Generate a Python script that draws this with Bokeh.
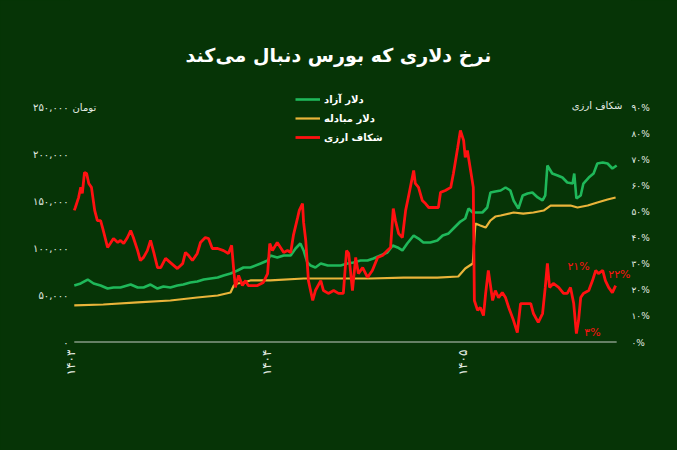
import math
from bokeh.plotting import figure
from bokeh.models import (Range1d, LinearAxis, FixedTicker, Label, Legend, LegendItem)
from bokeh.embed import file_html
from bokeh.resources import INLINE

# ---------------- data ----------------
year_ticks = [0, 365, 730]
year_labels = ["۱۴۰۳", "۱۴۰۴", "۱۴۰۵"]

toman_ticks = [0, 50000, 100000, 150000, 200000, 250000]
toman_labels = ["۰", "۵۰,۰۰۰", "۱۰۰,۰۰۰", "۱۵۰,۰۰۰", "۲۰۰,۰۰۰", "۲۵۰,۰۰۰"]

pct_ticks = [0, 10, 20, 30, 40, 50, 60, 70, 80, 90]
pct_labels = ["۰%", "۱۰%", "۲۰%", "۳۰%", "۴۰%", "۵۰%", "۶۰%", "۷۰%", "۸۰%", "۹۰%"]

free_day = [7, 19, 32, 43, 56, 69, 80, 93, 112, 125, 136, 149, 162, 173, 186, 199, 210, 223,
            236, 248, 261, 274, 285, 298, 311, 322, 335, 354, 367, 372, 385, 397, 410, 419,
            428, 434, 441, 447, 456, 466, 479, 490, 503, 516, 527, 540, 553, 564, 577, 590,
            600, 609, 618, 627, 639, 648, 657, 670, 683, 693, 704, 713, 726, 735, 741, 749,
            758, 767, 776, 782, 791, 801, 810, 819, 825, 834, 842, 851, 860, 870, 879, 884,
            888, 897, 907, 916, 925, 935, 938, 942, 950, 955, 965, 974, 981, 991, 1000,
            1009, 1017]
free_toman = [60600, 62800, 67000, 62800, 60600, 57400, 58500, 58500, 61700, 58500, 58500,
              61700, 57400, 59600, 58500, 60600, 61700, 63800, 64900, 67000, 68100, 69100,
              71300, 73400, 76600, 79800, 79800, 84000, 87200, 92600, 90400, 92600, 92600,
              100000, 105300, 97900, 85100, 81900, 79800, 84000, 81900, 81900, 81900, 84000,
              85100, 87200, 87200, 89400, 92600, 95700, 103200, 101100, 97900, 105300,
              113800, 110600, 106400, 106400, 108500, 113800, 116000, 121300, 128700,
              131900, 142500, 138300, 138300, 138300, 143600, 159600, 160600, 161700,
              164900, 161700, 151100, 142500, 156400, 158500, 159600, 154300, 151100,
              156400, 188300, 179800, 177700, 175500, 170200, 169100, 179800, 153200,
              156400, 169100, 175500, 179800, 190400, 191500, 190400, 185100, 188300]

exch_day = [7, 61, 125, 186, 236, 274, 298, 304, 311, 322, 335, 372, 434, 497, 559, 620,
            683, 722, 735, 749, 754, 763, 773, 782, 791, 801, 825, 843, 862, 881, 894, 912,
            931, 944, 963, 981, 1000, 1015]
exch_toman = [39400, 40400, 42600, 44700, 47900, 50000, 53200, 60600, 62800, 63800, 66000,
              66000, 68100, 68100, 68100, 69100, 69100, 70200, 78700, 84000, 126600, 124500,
              122300, 129800, 134000, 135100, 138300, 137200, 138300, 140400, 145700,
              145700, 145700, 143600, 145700, 148900, 152100, 154200]

gap_day = [7, 9, 15, 19, 22, 26, 30, 34, 39, 45, 50, 56, 61, 69, 74, 80, 88, 93, 99, 106,
           112, 117, 125, 130, 136, 143, 149, 155, 162, 168, 177, 186, 199, 209, 214, 220,
           227, 236, 242, 251, 257, 264, 274, 285, 294, 300, 304, 307, 313, 320, 326, 331,
           339, 348, 359, 367, 371, 376, 385, 391, 397, 404, 410, 415, 423, 426, 432, 434,
           438, 443, 451, 456, 466, 471, 480, 490, 499, 508, 514, 518, 525, 531, 536, 544,
           553, 562, 572, 581, 590, 596, 601, 605, 611, 618, 624, 629, 639, 642, 648, 655,
           661, 667, 676, 685, 689, 698, 708, 713, 721, 726, 732, 735, 739, 745, 750, 752,
           758, 763, 769, 773, 778, 786, 791, 797, 804, 810, 816, 825, 832, 838, 847, 857,
           862, 871, 879, 884, 888, 892, 899, 909, 918, 925, 931, 937, 942, 946, 950, 955,
           965, 972, 978, 983, 991, 996, 1002, 1009, 1015]
gap_pct = [50.6, 51.7, 55.5, 59.4, 57.1, 65.1, 64.7, 60.9, 59.4, 50.6, 46.7, 46.7, 42.9,
           36.4, 37.9, 39.8, 38.3, 39.1, 37.9, 40.2, 42.9, 40.2, 35.2, 31.4, 32.6, 35.2,
           39.1, 34.5, 28.7, 28.7, 32.2, 30.6, 28.3, 30.3, 34.5, 33.3, 31.4, 34.1, 38.3,
           40.2, 39.8, 36.0, 36.0, 35.2, 34.1, 37.2, 27.6, 21.1, 25.7, 21.8, 23.7, 21.8,
           21.8, 21.8, 23.0, 26.4, 37.9, 35.2, 38.3, 36.4, 34.5, 35.2, 34.5, 41.0, 47.9,
           50.6, 53.2, 46.0, 39.1, 23.7, 16.1, 19.9, 23.7, 19.9, 18.8, 19.9, 18.8, 18.8,
           35.2, 34.1, 19.9, 32.6, 26.4, 28.7, 24.9, 27.6, 32.6, 33.3, 35.2, 36.4, 51.3,
           46.7, 41.7, 40.2, 50.6, 55.5, 65.9, 60.9, 59.4, 54.4, 53.2, 51.7, 51.7, 51.7,
           57.5, 58.2, 59.4, 64.7, 74.7, 81.2, 77.4, 70.9, 73.5, 65.9, 59.4, 16.1, 12.3,
           13.4, 10.3, 18.8, 27.6, 16.1, 19.9, 17.2, 19.1, 17.2, 13.4, 8.4, 3.8, 14.9,
           14.9, 14.9, 11.1, 7.7, 11.1, 21.1, 30.3, 21.1, 22.6, 21.1, 18.8, 18.8, 21.1,
           14.9, 3.4, 8.4, 17.2, 18.8, 19.9, 23.7, 27.6, 26.4, 27.6, 23.7, 21.1, 19.1, 21.8]

notes_text = ["۲۱%", "۲۲%", "۳%"]
notes_day = [946, 1022, 972]
notes_pct = [29.1, 26.0, 3.8]

title_text = "نرخ دلاری که بورس دنبال می‌کند"
series_names = ["دلار آزاد", "دلار مبادله", "شکاف ارزی"]
left_unit = "تومان"
right_unit = "شکاف ارزی"

# ---------------- style ----------------
BG = "#063406"
GREEN = "#1fb85a"
YELLOW = "#e9b43a"
RED = "#ff1111"
TXT = "#e4ece4"
FONT = "DejaVu Sans"

# frame spans from the canvas top down to the zero line; value axes keep
# their 0..250k / 0..90% ticks on the lower 235 px of it
top_frac = 342.0 / 235.0

p = figure(width=677, height=450, output_backend="svg", toolbar_location=None,
           x_range=Range1d(-1.9, 1044.6), y_range=Range1d(0, 250000 * top_frac),
           min_border_left=69, min_border_right=46, min_border_top=0, min_border_bottom=108,
           background_fill_color=BG, border_fill_color=BG, outline_line_color=None)
p.title.visible = False
p.grid.visible = False
p.extra_y_ranges = {"pct": Range1d(0, 90 * top_frac)}


def style_axis(ax, standoff, size):
    ax.axis_line_color = None
    ax.major_tick_line_color = None
    ax.minor_tick_line_color = None
    ax.major_tick_out = 0
    ax.major_tick_in = 0
    ax.minor_tick_out = 0
    ax.major_label_standoff = standoff
    ax.major_label_text_color = TXT
    ax.major_label_text_font = FONT
    ax.major_label_text_font_size = size


# x axis
xa = p.xaxis[0]
xa.ticker = FixedTicker(ticks=year_ticks)
xa.major_label_overrides = {t: l for t, l in zip(year_ticks, year_labels)}
xa.major_label_orientation = math.pi / 2
style_axis(xa, 7, "12px")

# left axis
ya = p.yaxis[0]
ya.ticker = FixedTicker(ticks=toman_ticks)
ya.major_label_overrides = {t: l for t, l in zip(toman_ticks, toman_labels)}
style_axis(ya, 1, "10px")

# right axis
ra = LinearAxis(y_range_name="pct", ticker=FixedTicker(ticks=pct_ticks))
ra.major_label_overrides = {t: l for t, l in zip(pct_ticks, pct_labels)}
style_axis(ra, 0, "9px")
p.add_layout(ra, "right")

# zero baseline across the span of the data
all_days = free_day + exch_day + gap_day
p.line([min(all_days), max(all_days)], [0, 0], line_color="#c4ccc4", line_width=2)

r_exch = p.line(exch_day, exch_toman, line_color=YELLOW, line_width=2.2)
r_free = p.line(free_day, free_toman, line_color=GREEN, line_width=2.6)
r_gap = p.line(gap_day, gap_pct, line_color=RED, line_width=2.8, y_range_name="pct")

legend = Legend(items=[LegendItem(label=series_names[0], renderers=[r_free]),
                       LegendItem(label=series_names[1], renderers=[r_exch]),
                       LegendItem(label=series_names[2], renderers=[r_gap])],
                location=(226, 198), background_fill_alpha=0, border_line_color=None,
                label_text_color="#ffffff", label_text_font=FONT, label_text_font_style="bold",
                label_text_font_size="10px", glyph_width=25, glyph_height=14,
                label_height=14, spacing=5, padding=0, margin=0, label_standoff=4)
p.add_layout(legend, "center")

for t, d, v in zip(notes_text, notes_day, notes_pct):
    p.add_layout(Label(x=d, y=v, y_range_name="pct", text=t, text_color=RED,
                       text_font=FONT, text_font_size="11px", text_align="center",
                       text_baseline="middle"))

p.add_layout(Label(x=269, y=288, x_units="screen", y_units="screen", text=title_text,
                   text_color="#ffffff", text_font=FONT, text_font_style="bold",
                   text_font_size="19px", text_align="center", text_baseline="middle"))
p.add_layout(Label(x=3, y=235, x_units="screen", y_units="screen", text=left_unit,
                   text_color=TXT, text_font=FONT, text_font_size="10px",
                   text_align="left", text_baseline="middle"))
p.add_layout(Label(x=553, y=237, x_units="screen", y_units="screen", text=right_unit,
                   text_color=TXT, text_font=FONT, text_font_size="10px",
                   text_align="right", text_baseline="middle"))

html = file_html(p, INLINE)
html = html.replace("</head>", "<style>body{background-color:%s;}</style></head>" % BG, 1)
open("out.html", "w").write(html)
